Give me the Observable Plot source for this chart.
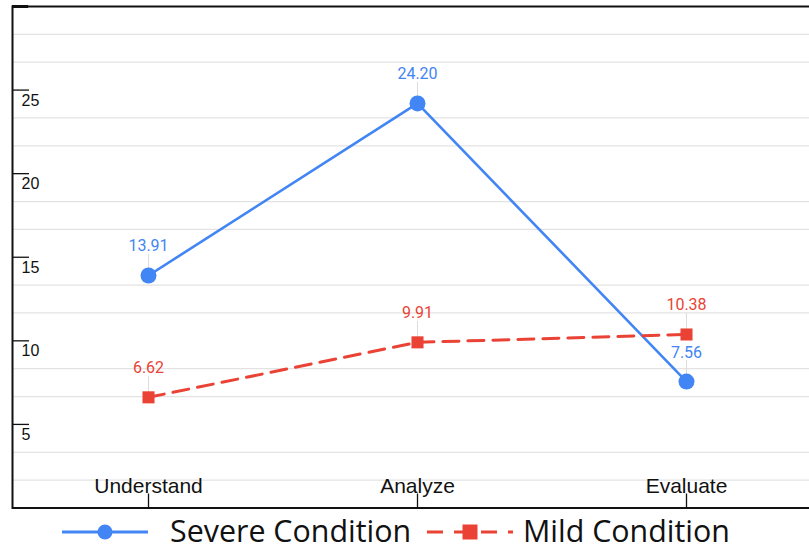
<!DOCTYPE html>
<html>
<head>
<meta charset="utf-8">
<script src="https://cdn.jsdelivr.net/npm/d3@7"></script>
<script src="https://cdn.jsdelivr.net/npm/@observablehq/plot@0.6"></script>
<style>
  html, body { margin: 0; padding: 0; background: #fff; overflow: hidden; width: 809px; height: 550px; }
  #chart { position: relative; width: 809px; height: 510px; overflow: hidden; }
  #chart svg { max-width: none !important; }
  #legend { display: block; overflow: visible; }
</style>
</head>
<body>
<div id="chart"></div>
<svg id="legend" width="809" height="40"></svg>
<script>
// Mean scores per cognitive level, by condition
const categories = ["Understand", "Analyze", "Evaluate"];
const severeValues = [13.91, 24.20, 7.56];
const mildValues = [6.62, 9.91, 10.38];
const seriesNames = ["Severe Condition", "Mild Condition"];
const seriesColors = ["#4285F4", "#EA4335"];
const yTicks = [5, 10, 15, 20, 25, 30];
const yTickLabels = [5, 10, 15, 20, 25];

const rows = [
  ...categories.map((c, i) => ({category: c, value: severeValues[i], series: seriesNames[0]})),
  ...categories.map((c, i) => ({category: c, value: mildValues[i], series: seriesNames[1]}))
];
const severeRows = rows.filter(d => d.series === seriesNames[0]);
const mildRows = rows.filter(d => d.series === seriesNames[1]);

// light minor gridlines every third of a major step (major steps carry ticks instead)
const gridValues = d3.range(1, 18).filter(k => k % 3 !== 0).map(k => k * 5 / 3);

const width = 821, height = 510;
const marginLeft = 12, marginRight = 0, marginTop = 6, marginBottom = 2.5;
const innerW = width - marginLeft - marginRight;
const innerH = height - marginTop - marginBottom;

const chart = Plot.plot({
  width, height, marginLeft, marginRight, marginTop, marginBottom,
  style: {fontFamily: "'Liberation Sans', Arial, sans-serif", background: "white", maxWidth: "none"},
  x: {type: "point", domain: categories, padding: 0.5, axis: null},
  y: {domain: [0, 30], axis: null},
  marks: [
    Plot.ruleY(gridValues, {stroke: "#e3e3e3", strokeWidth: 1.2}),
    // y tick marks pointing into the plot
    Plot.ruleY(yTicks, {stroke: "#111", strokeWidth: 1.3, insetRight: innerW - 17}),
    Plot.ruleY([30], {stroke: "#111", strokeWidth: 3, insetRight: innerW - 16}),
    // x tick marks pointing up from the baseline
    Plot.ruleX(categories, {x: d => d, stroke: "#111", strokeWidth: 1.3, insetTop: innerH - 14}),
    Plot.frame({stroke: "#111", strokeWidth: 2}),
    Plot.text(yTickLabels, {y: d => d, text: d => String(d), frameAnchor: "left", textAnchor: "start",
      dx: 9, dy: 10.5, fontSize: 16, fill: "#111"}),
    Plot.text(categories, {x: d => d, text: d => d, frameAnchor: "bottom", lineAnchor: "bottom",
      dy: -15, fontSize: 21, fill: "#111"}),
    // leader lines from the value labels down to the points
    Plot.ruleX(rows, {x: "category", y1: "value", y2: "value", insetTop: -21, stroke: "#dcdcdc", strokeWidth: 1}),
    Plot.line(severeRows, {x: "category", y: "value", stroke: seriesColors[0], strokeWidth: 2.6}),
    Plot.line(mildRows, {x: "category", y: "value", stroke: seriesColors[1], strokeWidth: 3, strokeDasharray: "16,9"}),
    Plot.dot(severeRows, {x: "category", y: "value", r: 8, fill: seriesColors[0], symbol: "circle"}),
    Plot.dot(mildRows, {x: "category", y: "value", r: 6.8, fill: seriesColors[1], symbol: "square"}),
    Plot.text(rows, {x: "category", y: "value", text: d => d.value.toFixed(2), lineAnchor: "bottom", dy: -24,
      fontSize: 16, fontFamily: "Roboto, sans-serif",
      fill: d => d.series === seriesNames[0] ? seriesColors[0] : seriesColors[1]})
  ]
});
document.getElementById("chart").appendChild(chart);

// legend below the plot
const legend = d3.select("#legend");
const items = [
  {name: seriesNames[0], color: seriesColors[0], x0: 62, x1: 148, textX: 170, shape: "circle", dash: null, width: 3},
  {name: seriesNames[1], color: seriesColors[1], x0: 427, x1: 513, textX: 523, shape: "square", dash: "16,11", width: 3}
];
const ly = 22;
for (const it of items) {
  const g = legend.append("g");
  g.append("line").attr("x1", it.x0).attr("x2", it.x1).attr("y1", ly).attr("y2", ly)
    .attr("stroke", it.color).attr("stroke-width", it.width).attr("stroke-dasharray", it.dash);
  const cx = (it.x0 + it.x1) / 2;
  if (it.shape === "circle") {
    g.append("circle").attr("cx", cx).attr("cy", ly).attr("r", 7.5).attr("fill", it.color);
  } else {
    g.append("rect").attr("x", cx - 7.5).attr("y", ly - 7.5).attr("width", 15).attr("height", 15).attr("fill", it.color);
  }
  g.append("text").attr("x", it.textX).attr("y", 31.5).text(it.name)
    .attr("font-family", "'Open Sans', sans-serif").attr("font-size", 30.4).attr("fill", "#111");
}
</script>
</body>
</html>
